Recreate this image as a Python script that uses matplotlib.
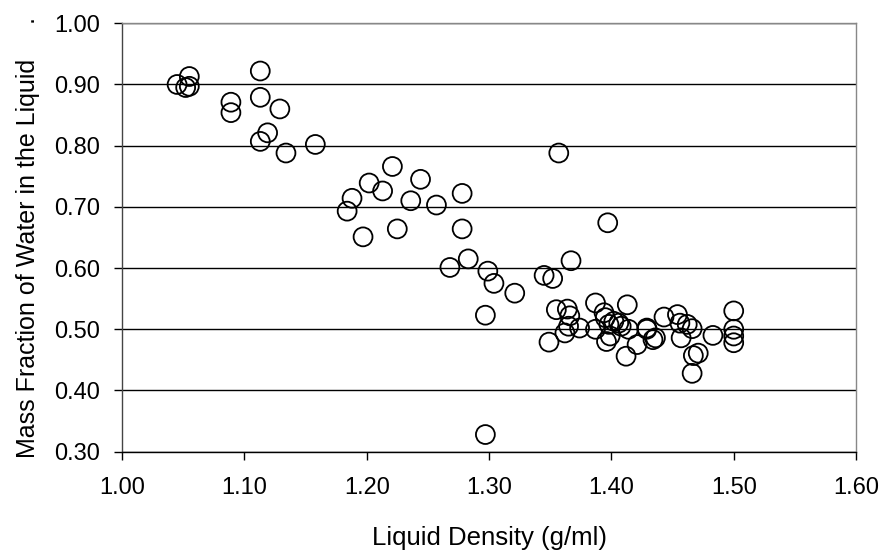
import matplotlib
matplotlib.use("Agg")
import matplotlib.pyplot as plt

plt.rcParams['font.family'] = ['Liberation Sans', 'DejaVu Sans']

# liquid density (g/ml) and mass fraction of water
density = [
    1.045, 1.052, 1.055, 1.055, 1.089, 1.089, 1.113, 1.113, 1.129, 1.119,
    1.113, 1.134, 1.158, 1.184, 1.188, 1.197, 1.202, 1.213, 1.221, 1.225,
    1.236, 1.244, 1.257, 1.278, 1.278, 1.268, 1.283, 1.299, 1.304, 1.321,
    1.297, 1.297, 1.357, 1.397, 1.367, 1.345, 1.352,
    1.355, 1.364, 1.366, 1.365, 1.362, 1.374, 1.349, 1.387, 1.387, 1.394,
    1.395, 1.398, 1.402, 1.406, 1.408, 1.399, 1.396, 1.414, 1.413, 1.412,
    1.421, 1.429, 1.434, 1.436, 1.429,
    1.443, 1.454, 1.456, 1.462, 1.466, 1.457, 1.471, 1.467, 1.466, 1.483,
    1.500, 1.500, 1.500, 1.500,
]
water_frac = [
    0.900, 0.895, 0.913, 0.897, 0.871, 0.854, 0.922, 0.879, 0.860, 0.821,
    0.807, 0.788, 0.802, 0.693, 0.714, 0.651, 0.739, 0.726, 0.766, 0.664,
    0.710, 0.745, 0.703, 0.722, 0.664, 0.601, 0.615, 0.595, 0.575, 0.559,
    0.523, 0.328, 0.788, 0.674, 0.612, 0.588, 0.583,
    0.532, 0.533, 0.522, 0.505, 0.494, 0.502, 0.479, 0.543, 0.500, 0.527,
    0.519, 0.508, 0.513, 0.510, 0.505, 0.489, 0.480, 0.500, 0.540, 0.456,
    0.475, 0.502, 0.483, 0.486, 0.500,
    0.520, 0.524, 0.510, 0.508, 0.501, 0.486, 0.461, 0.457, 0.428, 0.490,
    0.530, 0.500, 0.489, 0.478,
]

x_ticks = [1.00, 1.10, 1.20, 1.30, 1.40, 1.50, 1.60]
y_ticks = [0.30, 0.40, 0.50, 0.60, 0.70, 0.80, 0.90, 1.00]

fig = plt.figure(figsize=(8.85, 5.54), dpi=100)
ax = fig.add_axes([0.1379, 0.1847, 0.8294, 0.7733])

ax.scatter(density, water_frac, s=185, facecolors='none', edgecolors='black',
           linewidths=1.3, zorder=3)

ax.set_xlim(1.0, 1.6)
ax.set_ylim(0.3, 1.0)
ax.set_xticks(x_ticks)
ax.set_yticks(y_ticks)
ax.set_xticklabels(['%.2f' % v for v in x_ticks])
ax.set_yticklabels(['%.2f' % v for v in y_ticks])
ax.yaxis.grid(True, color='black', linewidth=1.0)
ax.set_axisbelow(True)

for side in ['top', 'right']:
    ax.spines[side].set_color('#888888')
ax.spines['left'].set_color('#444444')
ax.spines['bottom'].set_color('black')
for sp in ax.spines.values():
    sp.set_linewidth(1.0)

ax.tick_params(axis='both', direction='out', length=6, width=1.0,
               labelsize=17, colors='black')
ax.tick_params(axis='x', pad=12.5)
ax.tick_params(axis='y', pad=10)

ax.set_xlabel('Liquid Density (g/ml)', fontsize=18.5, labelpad=19)
ax.set_ylabel('Mass Fraction of Water in the Liquid     .', fontsize=18, labelpad=10)

fig.savefig('out.png', dpi=100)
